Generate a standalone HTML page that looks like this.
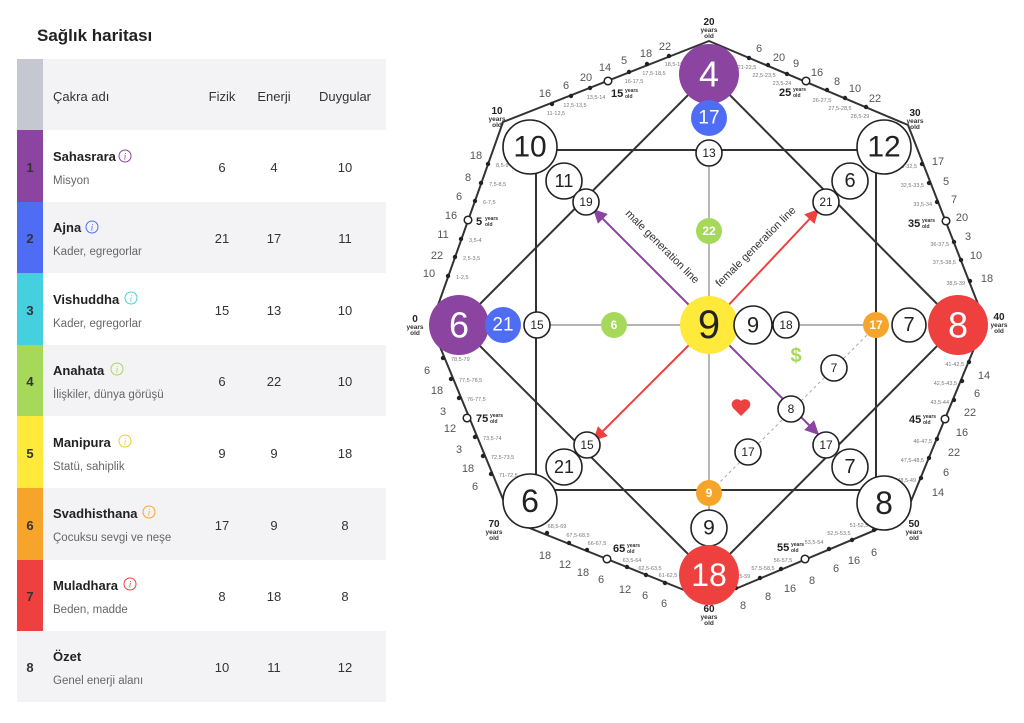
<!DOCTYPE html>
<html><head><meta charset="utf-8"><style>
html,body{margin:0;padding:0;background:#fff;}
svg{display:block;font-family:"Liberation Sans",sans-serif;}
.r{font-size:5.5px;fill:#777;}
.n{font-size:11px;fill:#555;text-anchor:middle;}
.ab{font-size:10px;fill:#222;text-anchor:middle;font-weight:bold;}
.as{font-size:6.5px;fill:#333;text-anchor:middle;font-weight:bold;}
.mb{font-size:11px;fill:#222;font-weight:bold;}
.ms{font-size:5px;fill:#333;font-weight:bold;}
.tw{fill:#fff;stroke:#222;stroke-width:1.6;}
.ct{text-anchor:middle;dominant-baseline:central;fill:#222;}
.cw{text-anchor:middle;dominant-baseline:central;fill:#fff;}
.th{font-size:13px;fill:#333;}
.nm{font-size:13px;font-weight:bold;fill:#222;}
.sb{font-size:11.5px;fill:#666;}
.v{font-size:13px;fill:#333;text-anchor:middle;}
.ix{font-size:13px;font-weight:bold;fill:#333;text-anchor:middle;}
.ii{font-size:9px;text-anchor:middle;font-style:italic;font-family:"Liberation Serif",serif;}
</style></head><body>
<svg width="1024" height="723" viewBox="0 0 1024 723" xmlns="http://www.w3.org/2000/svg">
<defs>
<marker id="ap" viewBox="0 0 10 10" refX="9" refY="5" markerWidth="7" markerHeight="7" orient="auto"><path d="M0,0 L10,5 L0,10 z" fill="#8b44a0"/></marker>
<marker id="ar" viewBox="0 0 10 10" refX="9" refY="5" markerWidth="7" markerHeight="7" orient="auto"><path d="M0,0 L10,5 L0,10 z" fill="#ef4040"/></marker>
</defs>

<!-- TABLE -->
<text x="37" y="41" font-size="17" fill="#222" style="font-weight:600">Sağlık haritası</text>
<rect x="17" y="59" width="369" height="71" fill="#f3f3f6"/>
<rect x="17" y="59" width="26" height="71" fill="#c5c7d1"/>
<text class="th" x="53" y="101">Çakra adı</text>
<text class="th" x="222" y="101" text-anchor="middle">Fizik</text>
<text class="th" x="274" y="101" text-anchor="middle">Enerji</text>
<text class="th" x="345" y="101" text-anchor="middle">Duygular</text>

<rect x="17" y="130" width="26" height="72" fill="#8b44a0"/>
<text class="ix" x="30" y="172">1</text>
<text class="nm" x="53" y="161">Sahasrara</text>
<circle cx="125" cy="156" r="6" fill="none" stroke="#8b44a0"/><text class="ii" x="125" y="159.5" fill="#8b44a0">i</text>
<text class="sb" x="53" y="184">Misyon</text>
<text class="v" x="222" y="172">6</text><text class="v" x="274" y="172">4</text><text class="v" x="345" y="172">10</text>

<rect x="17" y="202" width="369" height="71" fill="#f3f3f6"/>
<rect x="17" y="202" width="26" height="71" fill="#4f6cf5"/>
<text class="ix" x="30" y="243">2</text>
<text class="nm" x="53" y="232">Ajna</text>
<circle cx="92" cy="227" r="6" fill="none" stroke="#4f6cf5"/><text class="ii" x="92" y="230.5" fill="#4f6cf5">i</text>
<text class="sb" x="53" y="255">Kader, egregorlar</text>
<text class="v" x="222" y="243">21</text><text class="v" x="274" y="243">17</text><text class="v" x="345" y="243">11</text>

<rect x="17" y="273" width="26" height="72" fill="#45d0e0"/>
<text class="ix" x="30" y="315">3</text>
<text class="nm" x="53" y="304">Vishuddha</text>
<circle cx="131" cy="298" r="6" fill="none" stroke="#45d0e0"/><text class="ii" x="131" y="301.5" fill="#45d0e0">i</text>
<text class="sb" x="53" y="327">Kader, egregorlar</text>
<text class="v" x="222" y="315">15</text><text class="v" x="274" y="315">13</text><text class="v" x="345" y="315">10</text>

<rect x="17" y="345" width="369" height="71" fill="#f3f3f6"/>
<rect x="17" y="345" width="26" height="71" fill="#a6d85a"/>
<text class="ix" x="30" y="386">4</text>
<text class="nm" x="53" y="375">Anahata</text>
<circle cx="117" cy="369" r="6" fill="none" stroke="#a6d85a"/><text class="ii" x="117" y="372.5" fill="#a6d85a">i</text>
<text class="sb" x="53" y="398">İlişkiler, dünya görüşü</text>
<text class="v" x="222" y="386">6</text><text class="v" x="274" y="386">22</text><text class="v" x="345" y="386">10</text>

<rect x="17" y="416" width="26" height="72" fill="#ffe93b"/>
<text class="ix" x="30" y="458">5</text>
<text class="nm" x="53" y="447">Manipura</text>
<circle cx="125" cy="441" r="6" fill="none" stroke="#e8d020"/><text class="ii" x="125" y="444.5" fill="#e8d020">i</text>
<text class="sb" x="53" y="470">Statü, sahiplik</text>
<text class="v" x="222" y="458">9</text><text class="v" x="274" y="458">9</text><text class="v" x="345" y="458">18</text>

<rect x="17" y="488" width="369" height="72" fill="#f3f3f6"/>
<rect x="17" y="488" width="26" height="72" fill="#f7a52a"/>
<text class="ix" x="30" y="530">6</text>
<text class="nm" x="53" y="518">Svadhisthana</text>
<circle cx="149" cy="512" r="6" fill="none" stroke="#f7a52a"/><text class="ii" x="149" y="515.5" fill="#f7a52a">i</text>
<text class="sb" x="53" y="541">Çocuksu sevgi ve neşe</text>
<text class="v" x="222" y="530">17</text><text class="v" x="274" y="530">9</text><text class="v" x="345" y="530">8</text>

<rect x="17" y="560" width="26" height="71" fill="#ef4040"/>
<text class="ix" x="30" y="601">7</text>
<text class="nm" x="53" y="590">Muladhara</text>
<circle cx="130" cy="584" r="6" fill="none" stroke="#ef4040"/><text class="ii" x="130" y="587.5" fill="#ef4040">i</text>
<text class="sb" x="53" y="613">Beden, madde</text>
<text class="v" x="222" y="601">8</text><text class="v" x="274" y="601">18</text><text class="v" x="345" y="601">8</text>

<rect x="17" y="631" width="369" height="71" fill="#f3f3f6"/>
<text class="ix" x="30" y="672">8</text>
<text class="nm" x="53" y="661">Özet</text>
<text class="sb" x="53" y="684">Genel enerji alanı</text>
<text class="v" x="222" y="672">10</text><text class="v" x="274" y="672">11</text><text class="v" x="345" y="672">12</text>

<!-- OUTER RING -->
<polygon points="431,325 503,122 709,41 908,125 985,322 904,518 709,600 512,521" fill="none" stroke="#333" stroke-width="2" stroke-linejoin="round"/>

<!-- square and diamond -->
<g stroke="#333" stroke-width="2" fill="none">
<path d="M530,150 L884,150 M536,150 L536,500 M876,150 L876,500 M530,490 L884,490"/>
<path d="M709,74 L459,325 L709,575 L958,325 Z"/>
</g>
<g stroke="#888" stroke-width="1.2">
<line x1="709" y1="153" x2="709" y2="528"/>
<line x1="537" y1="325" x2="876" y2="325"/>
</g>
<line x1="712" y1="490" x2="872" y2="330" stroke="#aaa" stroke-width="1" stroke-dasharray="3,3"/>

<!-- generation lines -->
<line x1="695" y1="311" x2="594" y2="210" stroke="#8b44a0" stroke-width="2" marker-end="url(#ap)"/>
<line x1="723" y1="339" x2="818" y2="434" stroke="#8b44a0" stroke-width="2" marker-end="url(#ap)"/>
<line x1="723" y1="311" x2="818" y2="210" stroke="#ef4040" stroke-width="2" marker-end="url(#ar)"/>
<line x1="695" y1="339" x2="594" y2="440" stroke="#ef4040" stroke-width="2" marker-end="url(#ar)"/>
<text x="662" y="247" font-size="11" fill="#333" text-anchor="middle" dominant-baseline="central" transform="rotate(45 662 247)">male generation line</text>
<text x="756" y="247" font-size="11" fill="#333" text-anchor="middle" dominant-baseline="central" transform="rotate(-45 756 247)">female generation line</text>

<!-- dots on ring -->
<g fill="#222">
<circle cx="448" cy="276" r="2.2"/><circle cx="455" cy="257" r="2.2"/><circle cx="461" cy="239" r="2.2"/><circle cx="475" cy="201" r="2.2"/><circle cx="481" cy="183" r="2.2"/><circle cx="488" cy="164" r="2.2"/>
<circle cx="552" cy="104" r="2.2"/><circle cx="571" cy="96" r="2.2"/><circle cx="590" cy="88" r="2.2"/><circle cx="629" cy="72" r="2.2"/><circle cx="647" cy="64" r="2.2"/><circle cx="669" cy="56" r="2.2"/>
<circle cx="749" cy="58" r="2.2"/><circle cx="768" cy="65" r="2.2"/><circle cx="787" cy="74" r="2.2"/><circle cx="827" cy="90" r="2.2"/><circle cx="845" cy="98" r="2.2"/><circle cx="866" cy="107" r="2.2"/>
<circle cx="922" cy="164" r="2.2"/><circle cx="929" cy="183" r="2.2"/><circle cx="937" cy="202" r="2.2"/><circle cx="954" cy="242" r="2.2"/><circle cx="961" cy="260" r="2.2"/><circle cx="970" cy="281" r="2.2"/>
<circle cx="969" cy="362" r="2.2"/><circle cx="962" cy="381" r="2.2"/><circle cx="954" cy="400" r="2.2"/><circle cx="937" cy="439" r="2.2"/><circle cx="929" cy="458" r="2.2"/><circle cx="921" cy="478" r="2.2"/>
<circle cx="874" cy="530" r="2.2"/><circle cx="852" cy="540" r="2.2"/><circle cx="829" cy="549" r="2.2"/><circle cx="781" cy="569" r="2.2"/><circle cx="760" cy="578" r="2.2"/><circle cx="736" cy="588" r="2.2"/>
<circle cx="665" cy="583" r="2.2"/><circle cx="646" cy="575" r="2.2"/><circle cx="627" cy="567" r="2.2"/><circle cx="587" cy="550" r="2.2"/><circle cx="569" cy="543" r="2.2"/><circle cx="547" cy="533" r="2.2"/>
<circle cx="491" cy="474" r="2.2"/><circle cx="483" cy="456" r="2.2"/><circle cx="475" cy="437" r="2.2"/><circle cx="459" cy="398" r="2.2"/><circle cx="451" cy="379" r="2.2"/><circle cx="443" cy="358" r="2.2"/>
</g>
<g fill="#fff" stroke="#222" stroke-width="1.5">
<circle cx="468" cy="220" r="3.8"/><circle cx="608" cy="81" r="3.8"/><circle cx="806" cy="81" r="3.8"/><circle cx="946" cy="221" r="3.8"/><circle cx="945" cy="419" r="3.8"/><circle cx="805" cy="559" r="3.8"/><circle cx="607" cy="559" r="3.8"/><circle cx="467" cy="418" r="3.8"/>
</g>

<!-- range labels -->
<g class="r">
<text x="456" y="279">1-2,5</text><text x="463" y="260">2,5-3,5</text><text x="469" y="242">3,5-4</text><text x="483" y="204">6-7,5</text><text x="489" y="186">7,5-8,5</text><text x="496" y="167">8,5-9</text>
<text x="499" y="477">71-72,5</text><text x="491" y="459">72,5-73,5</text><text x="483" y="440">73,5-74</text><text x="467" y="401">76-77,5</text><text x="459" y="382">77,5-78,5</text><text x="451" y="361">78,5-79</text>
</g>
<g class="r" text-anchor="end">
<text x="917" y="168">31-32,5</text><text x="924" y="187">32,5-33,5</text><text x="932" y="206">33,5-34</text><text x="949" y="246">36-37,5</text><text x="956" y="264">37,5-38,5</text><text x="965" y="285">38,5-39</text>
<text x="964" y="366">41-42,5</text><text x="957" y="385">42,5-43,5</text><text x="949" y="404">43,5-44</text><text x="932" y="443">46-47,5</text><text x="924" y="462">47,5-48,5</text><text x="916" y="482">48,5-49</text>
</g>
<g class="r" text-anchor="middle">
<text x="556" y="115">11-12,5</text><text x="575" y="107">12,5-13,5</text><text x="596" y="99">13,5-14</text><text x="634" y="83">16-17,5</text><text x="654" y="75">17,5-18,5</text><text x="674" y="66">18,5-19</text>
<text x="747" y="69">21-22,5</text><text x="764" y="77">22,5-23,5</text><text x="782" y="85">23,5-24</text><text x="822" y="102">26-27,5</text><text x="840" y="110">27,5-28,5</text><text x="860" y="118">28,5-29</text>
<text x="859" y="527">51-52,5</text><text x="839" y="535">52,5-53,5</text><text x="814" y="544">53,5-54</text><text x="783" y="562">56-57,5</text><text x="763" y="570">57,5-58,5</text><text x="741" y="578">58,5-59</text>
<text x="668" y="577">61-62,5</text><text x="650" y="570">62,5-63,5</text><text x="632" y="562">63,5-64</text><text x="597" y="545">66-67,5</text><text x="578" y="537">67,5-68,5</text><text x="557" y="528">68,5-69</text>
</g>

<!-- outer numbers -->
<g class="n">
<text x="429" y="277">10</text><text x="437" y="259">22</text><text x="443" y="238">11</text><text x="451" y="219">16</text><text x="459" y="200">6</text><text x="468" y="181">8</text><text x="476" y="159">18</text>
<text x="545" y="97">16</text><text x="566" y="89">6</text><text x="586" y="81">20</text><text x="605" y="71">14</text><text x="624" y="64">5</text><text x="646" y="57">18</text><text x="665" y="50">22</text>
<text x="759" y="52">6</text><text x="779" y="61">20</text><text x="796" y="67">9</text><text x="817" y="76">16</text><text x="837" y="85">8</text><text x="855" y="92">10</text><text x="875" y="102">22</text>
<text x="938" y="165">17</text><text x="946" y="185">5</text><text x="954" y="203">7</text><text x="962" y="221">20</text><text x="968" y="240">3</text><text x="976" y="259">10</text><text x="987" y="282">18</text>
<text x="984" y="379">14</text><text x="977" y="397">6</text><text x="970" y="416">22</text><text x="962" y="436">16</text><text x="954" y="456">22</text><text x="946" y="476">6</text><text x="938" y="496">14</text>
<text x="874" y="556">6</text><text x="854" y="564">16</text><text x="836" y="572">6</text><text x="812" y="584">8</text><text x="790" y="592">16</text><text x="768" y="600">8</text><text x="743" y="609">8</text>
<text x="664" y="607">6</text><text x="645" y="599">6</text><text x="625" y="593">12</text><text x="601" y="583">6</text><text x="583" y="576">18</text><text x="565" y="568">12</text><text x="545" y="559">18</text>
<text x="475" y="490">6</text><text x="468" y="472">18</text><text x="459" y="453">3</text><text x="450" y="432">12</text><text x="443" y="415">3</text><text x="437" y="394">18</text><text x="427" y="374">6</text>
</g>

<!-- mid-age labels -->
<text class="mb" x="476" y="225">5</text><text class="ms" x="485" y="220">years</text><text class="ms" x="485" y="226">old</text>
<text class="mb" x="611" y="97">15</text><text class="ms" x="625" y="92">years</text><text class="ms" x="625" y="98">old</text>
<text class="mb" x="779" y="96">25</text><text class="ms" x="793" y="91">years</text><text class="ms" x="793" y="97">old</text>
<text class="mb" x="908" y="227">35</text><text class="ms" x="922" y="222">years</text><text class="ms" x="922" y="228">old</text>
<text class="mb" x="909" y="423">45</text><text class="ms" x="923" y="418">years</text><text class="ms" x="923" y="424">old</text>
<text class="mb" x="777" y="551">55</text><text class="ms" x="791" y="546">years</text><text class="ms" x="791" y="552">old</text>
<text class="mb" x="613" y="552">65</text><text class="ms" x="627" y="547">years</text><text class="ms" x="627" y="553">old</text>
<text class="mb" x="476" y="422">75</text><text class="ms" x="490" y="417">years</text><text class="ms" x="490" y="423">old</text>

<!-- decade labels -->
<text class="ab" x="415" y="322">0</text><text class="as" x="415" y="329">years</text><text class="as" x="415" y="335">old</text>
<text class="ab" x="497" y="114">10</text><text class="as" x="497" y="121">years</text><text class="as" x="497" y="127">old</text>
<text class="ab" x="709" y="25">20</text><text class="as" x="709" y="32">years</text><text class="as" x="709" y="38">old</text>
<text class="ab" x="915" y="116">30</text><text class="as" x="915" y="123">years</text><text class="as" x="915" y="129">old</text>
<text class="ab" x="999" y="320">40</text><text class="as" x="999" y="327">years</text><text class="as" x="999" y="333">old</text>
<text class="ab" x="914" y="527">50</text><text class="as" x="914" y="534">years</text><text class="as" x="914" y="540">old</text>
<text class="ab" x="709" y="612">60</text><text class="as" x="709" y="619">years</text><text class="as" x="709" y="625">old</text>
<text class="ab" x="494" y="527">70</text><text class="as" x="494" y="534">years</text><text class="as" x="494" y="540">old</text>

<!-- circles -->
<circle cx="709" cy="74" r="30" fill="#8b44a0"/><text class="cw" x="709" y="74" font-size="36">4</text>
<circle cx="709" cy="118" r="18" fill="#4f6cf5"/><text class="cw" x="709" y="118" font-size="19">17</text>
<circle class="tw" cx="709" cy="153" r="13"/><text class="ct" x="709" y="153" font-size="12">13</text>
<circle cx="709" cy="231" r="13" fill="#a6d85a"/><text class="cw" x="709" y="231" font-size="12" font-weight="bold">22</text>

<circle cx="459" cy="325" r="30" fill="#8b44a0"/><text class="cw" x="459" y="325" font-size="36">6</text>
<circle cx="503" cy="325" r="18" fill="#4f6cf5"/><text class="cw" x="503" y="325" font-size="19">21</text>
<circle class="tw" cx="537" cy="325" r="13"/><text class="ct" x="537" y="325" font-size="12">15</text>
<circle cx="614" cy="325" r="13" fill="#a6d85a"/><text class="cw" x="614" y="325" font-size="12" font-weight="bold">6</text>

<circle cx="709" cy="325" r="29" fill="#ffe93b"/><text class="ct" x="709" y="325" font-size="40">9</text>
<circle class="tw" cx="753" cy="325" r="19"/><text class="ct" x="753" y="325" font-size="22">9</text>
<circle class="tw" cx="786" cy="325" r="13"/><text class="ct" x="786" y="325" font-size="12">18</text>
<circle cx="876" cy="325" r="13" fill="#f7a52a"/><text class="cw" x="876" y="325" font-size="12" font-weight="bold">17</text>
<circle class="tw" cx="909" cy="325" r="17"/><text class="ct" x="909" y="325" font-size="20">7</text>
<circle cx="958" cy="325" r="30" fill="#ef4040"/><text class="cw" x="958" y="325" font-size="36">8</text>

<circle cx="709" cy="493" r="13" fill="#f7a52a"/><text class="cw" x="709" y="493" font-size="12" font-weight="bold">9</text>
<circle class="tw" cx="709" cy="528" r="18"/><text class="ct" x="709" y="528" font-size="21">9</text>
<circle cx="709" cy="575" r="30" fill="#ef4040"/><text class="cw" x="709" y="575" font-size="32">18</text>

<circle class="tw" cx="530" cy="147" r="27"/><text class="ct" x="530" y="147" font-size="30">10</text>
<circle class="tw" cx="564" cy="181" r="18"/><text class="ct" x="564" y="181" font-size="18">11</text>
<circle class="tw" cx="586" cy="202" r="13"/><text class="ct" x="586" y="202" font-size="12">19</text>

<circle class="tw" cx="884" cy="147" r="27"/><text class="ct" x="884" y="147" font-size="30">12</text>
<circle class="tw" cx="850" cy="181" r="18"/><text class="ct" x="850" y="181" font-size="20">6</text>
<circle class="tw" cx="826" cy="202" r="13"/><text class="ct" x="826" y="202" font-size="12">21</text>

<circle class="tw" cx="530" cy="501" r="27"/><text class="ct" x="530" y="501" font-size="32">6</text>
<circle class="tw" cx="564" cy="467" r="18"/><text class="ct" x="564" y="467" font-size="18">21</text>
<circle class="tw" cx="587" cy="445" r="13"/><text class="ct" x="587" y="445" font-size="12">15</text>

<circle class="tw" cx="884" cy="503" r="27"/><text class="ct" x="884" y="503" font-size="32">8</text>
<circle class="tw" cx="850" cy="467" r="18"/><text class="ct" x="850" y="467" font-size="20">7</text>
<circle class="tw" cx="826" cy="445" r="13"/><text class="ct" x="826" y="445" font-size="12">17</text>

<circle class="tw" cx="834" cy="368" r="13"/><text class="ct" x="834" y="368" font-size="12">7</text>
<circle class="tw" cx="791" cy="409" r="13"/><text class="ct" x="791" y="409" font-size="12">8</text>
<circle class="tw" cx="748" cy="452" r="13"/><text class="ct" x="748" y="452" font-size="12">17</text>

<text x="796" y="356" font-size="20" fill="#a6d85a" text-anchor="middle" dominant-baseline="central" font-weight="bold">$</text>
<path d="M741,416 L733,408 A4.5,4.5 0 0 1 741,401 A4.5,4.5 0 0 1 749,408 Z" fill="#ef4040"/>
</svg>
</body></html>
